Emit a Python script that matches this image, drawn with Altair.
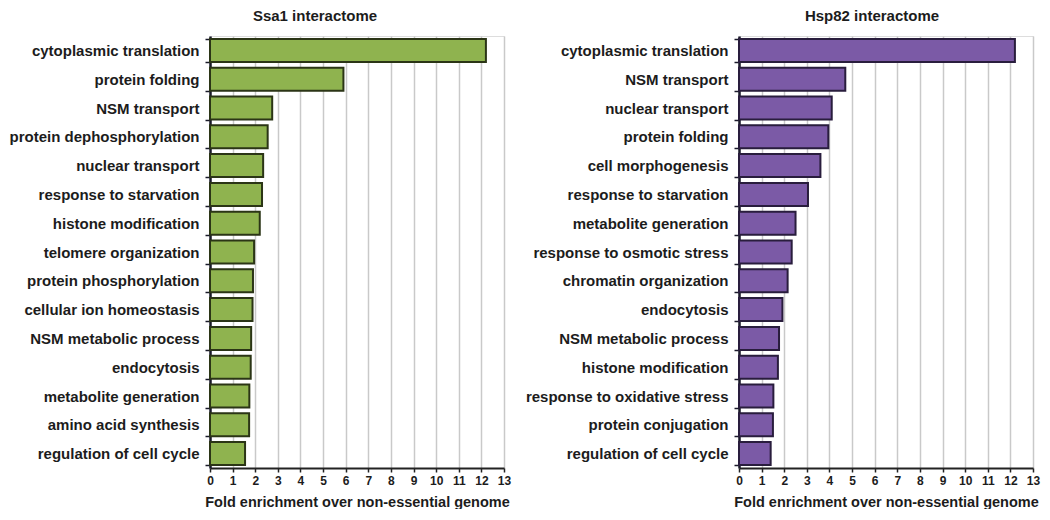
import altair as alt
import pandas as pd

ssa1_terms = [
    "cytoplasmic translation", "protein folding", "NSM transport",
    "protein dephosphorylation", "nuclear transport", "response to starvation",
    "histone modification", "telomere organization", "protein phosphorylation",
    "cellular ion homeostasis", "NSM metabolic process", "endocytosis",
    "metabolite generation", "amino acid synthesis", "regulation of cell cycle",
]
ssa1_values = [12.2, 5.9, 2.75, 2.55, 2.35, 2.3, 2.2, 1.95, 1.9, 1.88, 1.82, 1.8, 1.74, 1.73, 1.55]

hsp82_terms = [
    "cytoplasmic translation", "NSM transport", "nuclear transport",
    "protein folding", "cell morphogenesis", "response to starvation",
    "metabolite generation", "response to osmotic stress", "chromatin organization",
    "endocytosis", "NSM metabolic process", "histone modification",
    "response to oxidative stress", "protein conjugation", "regulation of cell cycle",
]
hsp82_values = [12.2, 4.7, 4.1, 3.95, 3.6, 3.05, 2.5, 2.33, 2.15, 1.92, 1.77, 1.72, 1.52, 1.5, 1.4]

x_ticks = list(range(0, 14))
FONT = "Liberation Sans"
TXT = "#1c1c1c"


def panel(terms, values, fill, stroke, title, dx):
    df = pd.DataFrame({"term": terms, "fold": values})
    return (
        alt.Chart(df)
        .mark_bar(fill=fill, stroke=stroke, strokeWidth=2)
        .encode(
            x=alt.X(
                "fold:Q",
                scale=alt.Scale(domain=[0, 13], nice=False),
                axis=alt.Axis(
                    values=x_ticks,
                    title="Fold enrichment over non-essential genome",
                    grid=True,
                    gridColor="#c9c9c9",
                    gridWidth=1.5,
                    domainColor="#222",
                    domainWidth=2,
                    tickColor="#222",
                    tickSize=4,
                    tickWidth=1.5,
                    labelFlush=False,
                    labelFont=FONT,
                    labelFontSize=12,
                    labelFontWeight="bold",
                    labelColor=TXT,
                    labelPadding=3,
                    titleFont=FONT,
                    titleFontSize=14.5,
                    titleFontWeight="bold",
                    titleColor=TXT,
                    titlePadding=9,
                ),
            ),
            y=alt.Y(
                "term:N",
                sort=terms,
                scale=alt.Scale(paddingInner=0.2, paddingOuter=0.1),
                axis=alt.Axis(
                    title=None,
                    tickBand="extent",
                    domainColor="#1a1a2a",
                    domainWidth=2.5,
                    tickColor="#1a1a2a",
                    tickSize=5,
                    tickWidth=1.5,
                    labelFont=FONT,
                    labelFontSize=15,
                    labelFontWeight="bold",
                    labelColor=TXT,
                    labelPadding=6,
                    labelLimit=300,
                ),
            ),
        )
        .properties(
            width=294,
            height=432,
            title=alt.TitleParams(
                title,
                font=FONT,
                fontSize=15,
                fontWeight="bold",
                color=TXT,
                anchor="middle",
                frame="group",
                dx=dx,
                offset=5,
            ),
        )
    )


left = panel(ssa1_terms, ssa1_values, "#8fb34f", "#2b3516", "Ssa1 interactome", -42)
right = panel(hsp82_terms, hsp82_values, "#7b5aa6", "#291d3d", "Hsp82 interactome", -14)

chart = (
    alt.hconcat(left, right, spacing=235, bounds="flush")
    .properties(padding={"left": 0, "top": 0, "right": 0, "bottom": 0})
    .configure_view(stroke=None)
    .configure(background="white")
)

chart.save("out.html", embed_options={"renderer": "svg", "actions": False})
